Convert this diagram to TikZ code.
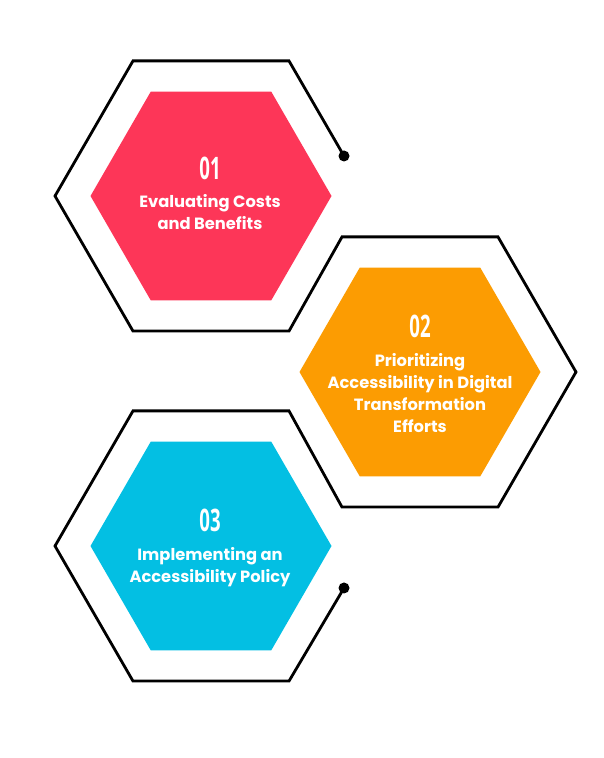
\documentclass[tikz,border=0pt]{standalone}
\usepackage{fontspec}
\setmainfont{Poppins}
\newfontfamily\numfont{Open Sans}[FakeStretch=0.6]
\usetikzlibrary{shapes.geometric,calc}
\definecolor{hexred}{HTML}{FD3658}
\definecolor{hexorange}{HTML}{FC9C02}
\definecolor{hexcyan}{HTML}{03BFE3}
\tikzset{
  hexa/.style={regular polygon,regular polygon sides=6,minimum size=241pt,inner sep=0pt,outer sep=0pt,draw=none},
  ring/.style={line width=2.8pt},
  dot/.style={circle,fill=black,minimum size=11pt,inner sep=0pt},
  num/.style={text=white,font=\numfont\fontsize{31}{31}\selectfont,anchor=base},
  txt/.style={text=white,font=\fontsize{16.3}{22}\selectfont\bfseries,align=center,anchor=base,inner sep=0pt}
}

\begin{document}
\begin{tikzpicture}[x=1pt,y=1pt]
\useasboundingbox[fill=white] (0,0) rectangle (604,758);
% filled hexagons
\node[hexa,fill=hexred] (h1) at (211,562) {};
\node[hexa,fill=hexorange] (h2) at (420,386) {};
\node[hexa,fill=hexcyan] (h3) at (211,212) {};
% outline with end dots
\node[dot] (d1) at ($(h1)+(133,40)$) {};
\node[dot] (d3) at ($(h3)+(133,-42)$) {};
\draw[ring] (d1.center) -- ($(h1)+(60:156)$) -- ($(h1)+(120:156)$) -- ($(h1)+(180:156)$) -- ($(h1)+(240:156)$) -- ($(h1)+(300:156)$)
  -- ($(h2)+(120:156)$) -- ($(h2)+(60:156)$) -- ($(h2)+(0:156)$) -- ($(h2)+(-60:156)$) -- ($(h2)+(-120:156)$)
  -- ($(h3)+(60:156)$) -- ($(h3)+(120:156)$) -- ($(h3)+(180:156)$) -- ($(h3)+(240:156)$) -- ($(h3)+(300:156)$) -- (d3.center);
% labels (txt anchored on last line)
\node[num] (n1) at ($(h1)+(-1,16)$) {\bfseries 01};
\node[txt] (t1) at ($(h1)+(-1,-34)$) {Evaluating Costs\\ and Benefits};
\node[num] (n2) at ($(h2)+(0,34)$) {\bfseries 02};
\node[txt] (t2) at ($(h2)+(0,-61)$) {Prioritizing\\Accessibility in Digital\\Transformation\\Efforts};
\node[num] (n3) at ($(h3)+(-1,14)$) {\bfseries 03};
\node[txt] (t3) at ($(h3)+(-1,-36.5)$) {Implementing an\\Accessibility Policy};
\end{tikzpicture}
\end{document}
